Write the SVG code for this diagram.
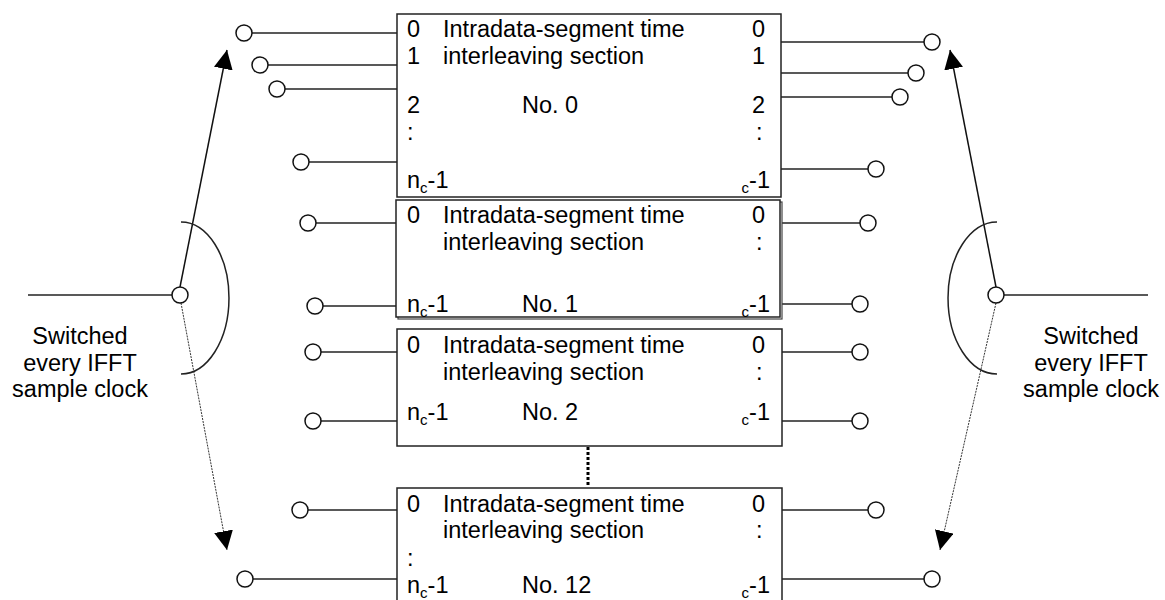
<svg xmlns="http://www.w3.org/2000/svg" width="1165" height="600" viewBox="0 0 1165 600">
<defs>
<marker id="ah" viewBox="0 0 20 20" refX="20" refY="10" markerWidth="19" markerHeight="19" markerUnits="userSpaceOnUse" orient="auto"><path d="M0,0 L20,10 L0,20 z" fill="#000"/></marker>
<style>
.box{fill:#fff;stroke:#222;stroke-width:1.5}
.shadow{fill:none;stroke:#444;stroke-width:1.2}
.w{fill:none;stroke:#222;stroke-width:1.5}
.arr{fill:none;stroke:#111;stroke-width:1.5}
.dot{fill:none;stroke:#333;stroke-width:1;stroke-dasharray:2 1}
.vdot{fill:none;stroke:#000;stroke-width:3;stroke-dasharray:3 2}
.c{fill:#fff;stroke:#111;stroke-width:1.5}
text{font-family:"Liberation Sans",Arial,sans-serif;font-size:23.5px;fill:#000}
.sub{font-size:15px}
.lbl{text-anchor:middle}
.r{text-anchor:end}
</style>
</defs>
<rect width="1165" height="600" fill="#fff"/>

<g id="connectors">
<line class="w" x1="252" y1="33" x2="397" y2="33"/>
<line class="w" x1="268" y1="65" x2="397" y2="65"/>
<line class="w" x1="285" y1="89" x2="397" y2="89"/>
<line class="w" x1="309" y1="162" x2="397" y2="162"/>
<line class="w" x1="781" y1="42" x2="924" y2="42"/>
<line class="w" x1="781" y1="73" x2="908" y2="73"/>
<line class="w" x1="781" y1="97" x2="892" y2="97"/>
<line class="w" x1="781" y1="169" x2="868" y2="169"/>
<line class="w" x1="316" y1="223" x2="396" y2="223"/>
<line class="w" x1="323" y1="306" x2="396" y2="306"/>
<line class="w" x1="782" y1="223" x2="860" y2="223"/>
<line class="w" x1="782" y1="304" x2="852" y2="304"/>
<line class="w" x1="321" y1="352" x2="397" y2="352"/>
<line class="w" x1="321" y1="421" x2="397" y2="421"/>
<line class="w" x1="782" y1="352" x2="852" y2="352"/>
<line class="w" x1="782" y1="421" x2="852" y2="421"/>
<line class="w" x1="308" y1="510" x2="397" y2="510"/>
<line class="w" x1="253" y1="579" x2="397" y2="579"/>
<line class="w" x1="782" y1="510" x2="868" y2="510"/>
<line class="w" x1="782" y1="579" x2="924" y2="579"/>
<line class="vdot" x1="588" y1="447" x2="588" y2="487"/>
<line class="w" x1="28" y1="295" x2="172" y2="295"/>
<line class="arr" x1="180" y1="287" x2="227" y2="50" marker-end="url(#ah)"/>
<line class="dot" x1="181" y1="303" x2="227" y2="550" marker-end="url(#ah)"/>
<path class="w" d="M181,222 A48,76 0 0 1 181,374"/>
<line class="w" x1="1004" y1="295" x2="1148" y2="295"/>
<line class="arr" x1="996" y1="287" x2="950" y2="50" marker-end="url(#ah)"/>
<line class="dot" x1="996" y1="303" x2="940" y2="550" marker-end="url(#ah)"/>
<path class="w" d="M997,222 A49,76 0 0 0 997,374"/>
</g>

<g id="ports">
<circle class="c" cx="244" cy="33" r="8"/>
<circle class="c" cx="260" cy="65" r="8"/>
<circle class="c" cx="277" cy="89" r="8"/>
<circle class="c" cx="301" cy="162" r="8"/>
<circle class="c" cx="932" cy="42" r="8"/>
<circle class="c" cx="916" cy="73" r="8"/>
<circle class="c" cx="900" cy="97" r="8"/>
<circle class="c" cx="876" cy="169" r="8"/>
<circle class="c" cx="308" cy="223" r="8"/>
<circle class="c" cx="315" cy="306" r="8"/>
<circle class="c" cx="868" cy="223" r="8"/>
<circle class="c" cx="860" cy="304" r="8"/>
<circle class="c" cx="313" cy="352" r="8"/>
<circle class="c" cx="313" cy="421" r="8"/>
<circle class="c" cx="860" cy="352" r="8"/>
<circle class="c" cx="860" cy="421" r="8"/>
<circle class="c" cx="300" cy="510" r="8"/>
<circle class="c" cx="245" cy="579" r="8"/>
<circle class="c" cx="876" cy="510" r="8"/>
<circle class="c" cx="932" cy="579" r="8"/>
</g>

<g id="switch-left">
<circle class="c" cx="180" cy="295" r="8"/>
<text class="lbl" x="80" y="344">Switched</text>
<text class="lbl" x="80" y="371">every IFFT</text>
<text class="lbl" x="80" y="397">sample clock</text>
</g>

<g id="switch-right">
<circle class="c" cx="996" cy="295" r="8"/>
<text class="lbl" x="1091" y="344">Switched</text>
<text class="lbl" x="1091" y="371">every IFFT</text>
<text class="lbl" x="1091" y="397">sample clock</text>
</g>

<g id="box0">
<rect class="box" x="397" y="14" width="384" height="183"/>
<text x="407" y="37">0</text>
<text x="443" y="37">Intradata-segment time</text>
<text x="752" y="37">0</text>
<text x="407" y="64">1</text>
<text x="443" y="64">interleaving section</text>
<text x="752" y="64">1</text>
<text x="407" y="113">2</text>
<text x="522" y="113">No. 0</text>
<text x="752" y="113">2</text>
<text x="407" y="140">:</text>
<text x="756" y="140">:</text>
<text x="407" y="188">n<tspan class="sub" dy="5">c</tspan><tspan dy="-5">-1</tspan></text>
<text class="r" x="770" y="188"><tspan class="sub" dy="5">c</tspan><tspan dy="-5">-1</tspan></text>
</g>

<g id="box1">
<rect class="shadow" x="398" y="202" width="384" height="117"/>
<rect class="box" x="396" y="200" width="384" height="117"/>
<text x="407" y="223">0</text>
<text x="443" y="223">Intradata-segment time</text>
<text x="752" y="223">0</text>
<text x="443" y="250">interleaving section</text>
<text x="756" y="250">:</text>
<text x="407" y="312">n<tspan class="sub" dy="5">c</tspan><tspan dy="-5">-1</tspan></text>
<text x="522" y="312">No. 1</text>
<text class="r" x="770" y="312"><tspan class="sub" dy="5">c</tspan><tspan dy="-5">-1</tspan></text>
</g>

<g id="box2">
<rect class="box" x="397" y="329" width="385" height="117"/>
<text x="407" y="353">0</text>
<text x="443" y="353">Intradata-segment time</text>
<text x="752" y="353">0</text>
<text x="443" y="380">interleaving section</text>
<text x="756" y="380">:</text>
<text x="407" y="420">n<tspan class="sub" dy="5">c</tspan><tspan dy="-5">-1</tspan></text>
<text x="522" y="420">No. 2</text>
<text class="r" x="770" y="420"><tspan class="sub" dy="5">c</tspan><tspan dy="-5">-1</tspan></text>
</g>

<g id="box12">
<rect class="box" x="397" y="488" width="385" height="130"/>
<text x="407" y="512">0</text>
<text x="443" y="512">Intradata-segment time</text>
<text x="752" y="512">0</text>
<text x="443" y="538">interleaving section</text>
<text x="756" y="538">:</text>
<text x="407" y="566">:</text>
<text x="407" y="593">n<tspan class="sub" dy="5">c</tspan><tspan dy="-5">-1</tspan></text>
<text x="522" y="593">No. 12</text>
<text class="r" x="770" y="593"><tspan class="sub" dy="5">c</tspan><tspan dy="-5">-1</tspan></text>
</g>
</svg>
